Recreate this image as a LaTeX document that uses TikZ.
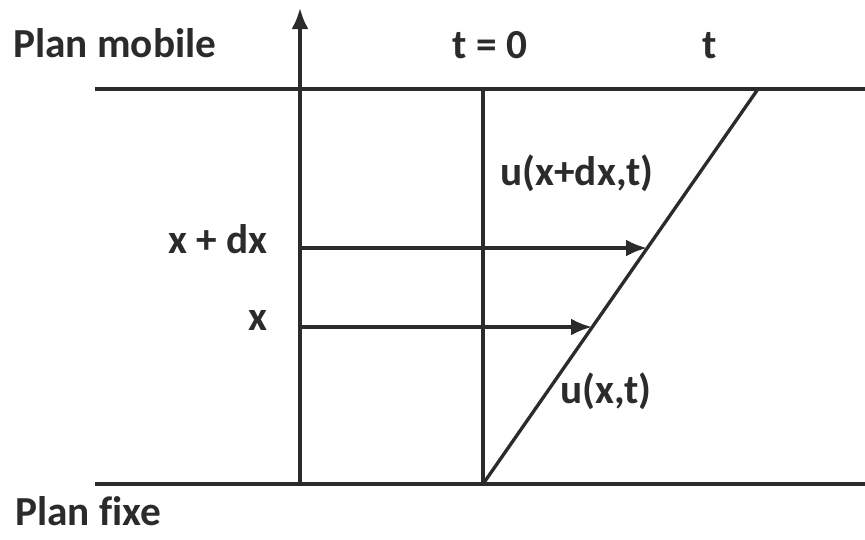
\documentclass[tikz,border=0pt]{standalone}
\usepackage{fontspec}
\setmainfont{Carlito}[Ligatures=CommonOff]
\usetikzlibrary{arrows.meta}
\definecolor{ink}{HTML}{2B2B2B}
\tikzset{
  trait/.style={draw=ink, line width=1.9pt},
  fleche/.style={trait, -{Latex[length=0.42cm,width=0.34cm]}},
  etiq/.style={inner sep=0pt, text=ink, font=\fontsize{23.5}{26}\selectfont\bfseries}
}
\begin{document}
\begin{tikzpicture}[x=0.02cm, y=-0.02cm]
        \useasboundingbox (0,0) rectangle (865,539);
        % planes
        \coordinate (mobG) at (95,89);
        \coordinate (mobD) at (865,89);
        \coordinate (fixG) at (95,484);
        \coordinate (fixD) at (865,484);
        \draw [trait] (mobG) -- (mobD);
        \draw [trait] (fixG) -- (fixD);
        % axis
        \coordinate (axeB) at (300,484);
        \coordinate (axeH) at (300,8);
        \draw [fleche] (axeB) -- (axeH);
        % t = 0 and t
        \coordinate (zeroB) at (483,484);
        \coordinate (zeroH) at (483,89);
        \coordinate (tH) at (758,89);
        \draw [trait] (zeroB) -- (zeroH);
        \draw [trait] (zeroB) -- (tH);
        % displacements
        \coordinate (xdx) at (300,248);
        \coordinate (udx) at (647,248);
        \coordinate (x) at (300,327);
        \coordinate (ux) at (592,327);
        \draw [fleche] (xdx) -- (udx);
        \draw [fleche] (x) -- (ux);
        % labels
        \node [etiq, anchor=base west] (mobile) at (13,57) {Plan mobile};
        \node [etiq, anchor=base west] (fixe) at (15,525) {Plan fixe};
        \node [etiq, anchor=base] (tzero) at (490,58) {t = 0};
        \node [etiq, anchor=base] (tfin) at (710,58) {t};
        \node [etiq, anchor=base east] (lxdx) at (268,253) {x + dx};
        \node [etiq, anchor=base east] (lx) at (268,330) {x};
        \node [etiq, anchor=base west] (ludx) at (500,185) {u(x+dx,t)};
        \node [etiq, anchor=base west] (lux) at (560,403) {u(x,t)};
\end{tikzpicture}
\end{document}
